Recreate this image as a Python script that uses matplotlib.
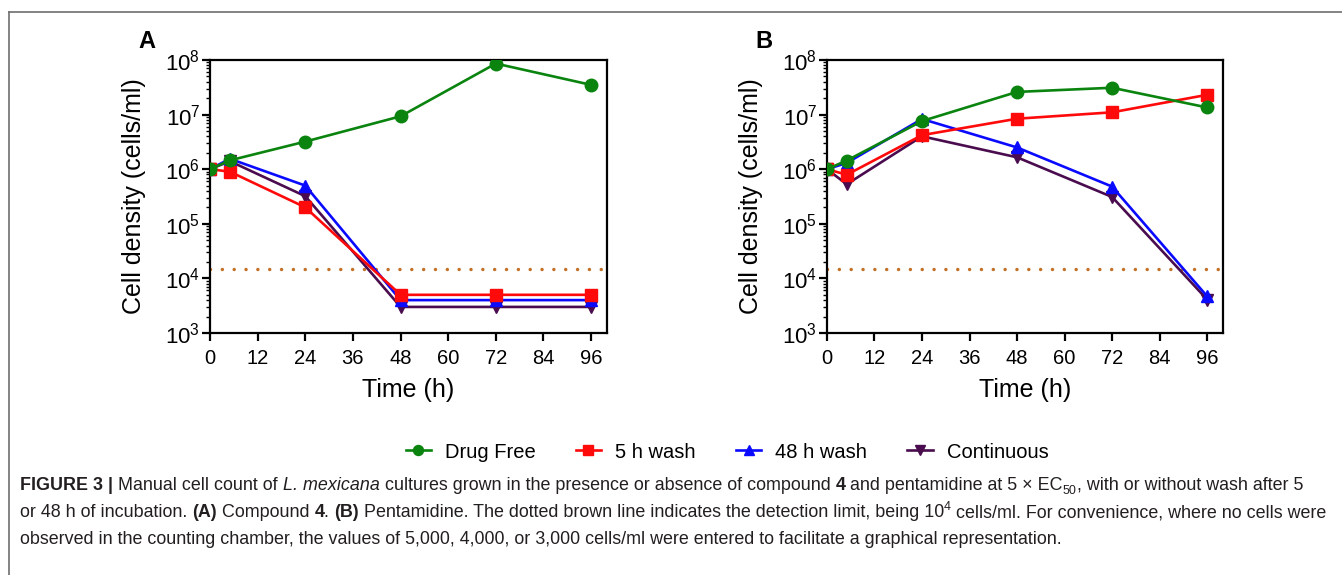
import numpy as np
import matplotlib.pyplot as plt
from matplotlib.ticker import LogLocator, NullFormatter

plt.rcParams['font.family'] = ['Liberation Sans', 'DejaVu Sans']
plt.rcParams['mathtext.fontset'] = 'custom'
plt.rcParams['mathtext.rm'] = 'Liberation Sans'

# time points (h)
time_h = [0, 5, 24, 48, 72, 96]
x_ticks = [0, 12, 24, 36, 48, 60, 72, 84, 96]
detection_limit = 1.5e4

# panel A: compound 4
a_drug_free = [1.0e6, 1.45e6, 3.2e6, 9.3e6, 8.6e7, 3.5e7]
a_wash5 = [1.0e6, 9.0e5, 2.0e5, 5.0e3, 5.0e3, 5.0e3]
a_wash48 = [1.0e6, 1.55e6, 5.0e5, 4.0e3, 4.0e3, 4.0e3]
a_continuous = [1.0e6, 1.4e6, 3.2e5, 3.0e3, 3.0e3, 3.0e3]

# panel B: pentamidine
b_drug_free = [1.0e6, 1.44e6, 7.6e6, 2.6e7, 3.1e7, 1.35e7]
b_wash5 = [1.0e6, 7.9e5, 4.2e6, 8.4e6, 1.1e7, 2.3e7]
b_wash48 = [1.0e6, 1.3e6, 8.3e6, 2.5e6, 4.8e5, 4.7e3]
b_continuous = [1.0e6, 5.3e5, 4.0e6, 1.65e6, 3.1e5, 4.1e3]

labels = ['Drug Free', '5 h wash', '48 h wash', 'Continuous']
colors = ['#0a840f', '#ff0a0a', '#0a0aff', '#4a0c4e']
markers = ['o', 's', '^', 'v']

W, H = 1342, 575
fig = plt.figure(figsize=(W / 100, H / 100), dpi=100)


def draw_panel(rect, series, letter):
    ax = fig.add_axes(rect)
    # draw back to front so green sits on top
    for i in [3, 2, 1, 0]:
        ax.plot(time_h, series[i], color=colors[i], marker=markers[i],
                ms=9, lw=1.9, label=labels[i], zorder=3 + (3 - i))
    ax.axhline(detection_limit, color='#c47128', lw=2.5,
               ls=(0, (0.01, 3.4)), dash_capstyle='round', zorder=2)
    ax.set_yscale('log')
    ax.set_ylim(1e3, 1e8)
    ax.set_xlim(0, 100)
    ax.set_xticks(x_ticks)
    ax.yaxis.set_major_locator(LogLocator(base=10, numticks=10))
    ax.yaxis.set_minor_locator(LogLocator(base=10, subs=np.arange(2, 10), numticks=10))
    ax.yaxis.set_minor_formatter(NullFormatter())
    for s in ax.spines.values():
        s.set_linewidth(1.6)
    ax.tick_params(which='major', direction='out', length=5.5, width=1.6,
                   labelsize=14.5, colors='black')
    ax.tick_params(axis='x', which='major', pad=6)
    ax.tick_params(axis='y', which='major', labelsize=16, pad=1.5)
    ax.tick_params(which='minor', direction='out', length=2.8, width=1.0)
    ax.set_xlabel('Time (h)', fontsize=18, labelpad=7)
    ax.set_ylabel('Cell density (cells/ml)', fontsize=18)
    ax.yaxis.set_label_coords(-0.161, 0.5)
    ax.text(-0.159, 1.025, letter, transform=ax.transAxes, fontsize=17,
            fontweight='bold', ha='center', va='bottom')
    return ax


ax_a = draw_panel([0.1565, 0.4209, 0.2958, 0.4748],
                  [a_drug_free, a_wash5, a_wash48, a_continuous], 'A')
ax_b = draw_panel([0.6162, 0.4209, 0.2951, 0.4748],
                  [b_drug_free, b_wash5, b_wash48, b_continuous], 'B')

handles, hl = ax_a.get_legend_handles_labels()
order = [hl.index(l) for l in labels]
fig.legend([handles[i] for i in order], labels, loc='center',
           bbox_to_anchor=(727 / W, 1 - 452 / H), ncol=4, frameon=False,
           fontsize=14.5, handlelength=1.25, columnspacing=2.0, handletextpad=0.7,
           markerscale=0.8)

# outer frame lines (top and left)
fig.add_artist(plt.Line2D([9 / W, 1.0], [1 - 12 / H, 1 - 12 / H], color='#6e6e6e', lw=1.2))
fig.add_artist(plt.Line2D([9 / W, 9 / W], [0, 1 - 12 / H], color='#6e6e6e', lw=1.2))

# caption with mixed styles, drawn piece by piece
cap_size = 12.9
cap_color = '#231f20'
caption = [
    [('FIGURE 3', 'b'), (' | ', 'b'), ('Manual cell count of ', 'n'), ('L. mexicana', 'i'),
     (' cultures grown in the presence or absence of compound ', 'n'), ('4', 'b'),
     (' and pentamidine at 5 × EC', 'n'), ('50', 'sub'), (', with or without wash after 5', 'n')],
    [('or 48 h of incubation. ', 'n'), ('(A)', 'b'), (' Compound ', 'n'), ('4', 'b'), ('. ', 'n'),
     ('(B)', 'b'), (' Pentamidine. The dotted brown line indicates the detection limit, being 10', 'n'),
     ('4', 'sup'), (' cells/ml. For convenience, where no cells were', 'n')],
    [('observed in the counting chamber, the values of 5,000, 4,000, or 3,000 cells/ml were '
      'entered to facilitate a graphical representation.', 'n')],
]
baselines = [490, 517, 544]

renderer = fig.canvas.get_renderer()
for line, yb in zip(caption, baselines):
    x = 20.0
    for txt, style in line:
        kw = dict(fontsize=cap_size, color=cap_color, ha='left', va='baseline')
        y = yb
        if style == 'b':
            kw['fontweight'] = 'bold'
        elif style == 'i':
            kw['fontstyle'] = 'italic'
        elif style == 'sub':
            kw['fontsize'] = cap_size * 0.7
            y = yb + 4
        elif style == 'sup':
            kw['fontsize'] = cap_size * 0.7
            y = yb - 7
        t = fig.text(x / W, 1 - y / H, txt, **kw)
        bb = t.get_window_extent(renderer)
        x += bb.width

fig.savefig('out.png', dpi=100)
